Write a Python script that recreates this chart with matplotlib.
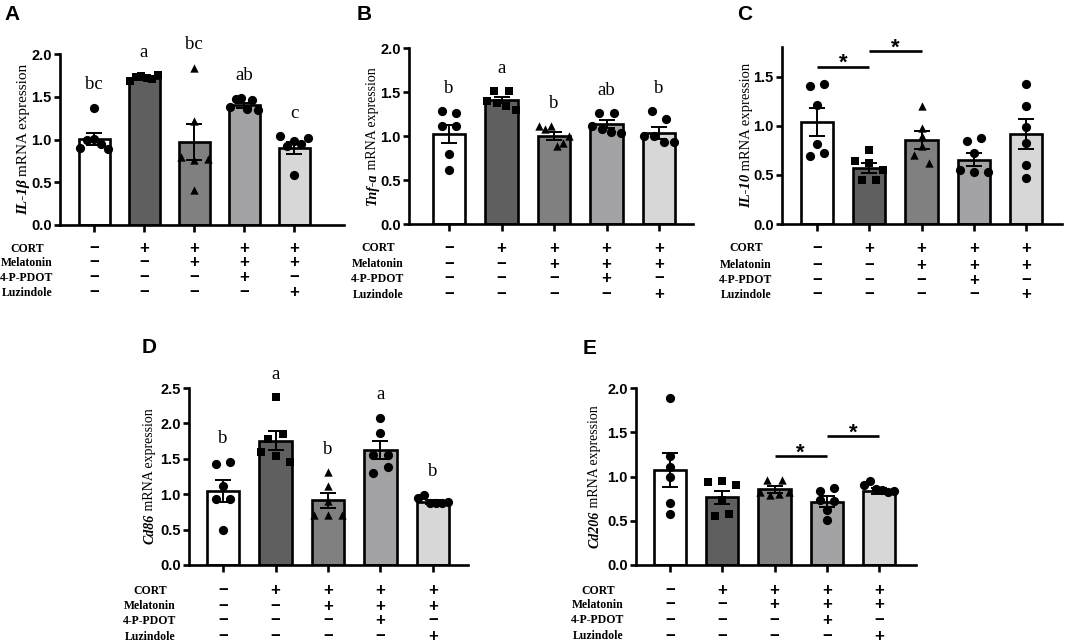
import numpy as np
import matplotlib
matplotlib.use('Agg')
import matplotlib.pyplot as plt
from matplotlib.transforms import blended_transform_factory, IdentityTransform
from matplotlib.ticker import MultipleLocator, FormatStrFormatter

plt.rcParams['font.family'] = ['Liberation Sans', 'DejaVu Sans']

W, H = 1065, 643
fig = plt.figure(figsize=(W / 100, H / 100), dpi=100)

# ---------------- data ----------------
row_names = ['CORT', 'Melatonin', '4-P-PDOT', 'Luzindole']
treatments = [['-', '+', '+', '+', '+'],
              ['-', '-', '+', '+', '+'],
              ['-', '-', '-', '+', '-'],
              ['-', '-', '-', '-', '+']]
bar_colors = ['#ffffff', '#5f5f5f', '#808080', '#a3a3a5', '#d7d7d7']
group_markers = ['o', 's', '^', 'o', 'o']

# A: IL-1beta
a_gene = 'IL-1β'
a_means = [1.01, 1.72, 0.97, 1.40, 0.90]
a_sem = [0.07, 0.02, 0.21, 0.03, 0.07]
a_points = [[0.90, 0.99, 1.37, 1.01, 0.95, 0.89],
            [1.68, 1.73, 1.74, 1.72, 1.71, 1.75],
            [0.80, 1.84, 1.22, 0.76, 0.41, 0.77],
            [1.38, 1.47, 1.48, 1.36, 1.46, 1.35],
            [1.04, 0.92, 0.98, 0.95, 0.58, 1.02]]
a_letters = ['bc', 'a', 'bc', 'ab', 'c']

# B: Tnf-a
b_gene = 'Tnf-a'
b_means = [1.02, 1.41, 1.00, 1.14, 1.035]
b_sem = [0.105, 0.03, 0.04, 0.045, 0.065]
b_points = [[1.28, 1.26, 1.11, 1.11, 0.80, 0.61],
            [1.51, 1.51, 1.40, 1.38, 1.34, 1.29],
            [1.11, 1.08, 1.11, 0.89, 0.92, 1.00],
            [1.26, 1.26, 1.11, 1.08, 1.04, 1.03],
            [1.28, 1.19, 1.00, 1.00, 0.93, 0.93]]
b_letters = ['b', 'a', 'b', 'ab', 'b']

# C: IL-10
c_gene = 'IL-10'
c_means = [1.04, 0.57, 0.855, 0.655, 0.915]
c_sem = [0.14, 0.05, 0.09, 0.065, 0.15]
c_points = [[1.40, 1.42, 1.21, 0.81, 0.69, 0.72],
            [0.75, 0.64, 0.62, 0.55, 0.45, 0.45],
            [1.20, 0.98, 0.89, 0.79, 0.70, 0.62],
            [0.84, 0.87, 0.72, 0.55, 0.53, 0.53],
            [1.42, 1.20, 0.99, 0.82, 0.60, 0.47]]
c_sig = [(0, 1, 1.60), (1, 2, 1.755)]

# D: Cd86
d_gene = 'Cd86'
d_means = [1.05, 1.755, 0.915, 1.625, 0.895]
d_sem = [0.155, 0.135, 0.105, 0.13, 0.03]
d_points = [[1.42, 1.46, 1.12, 0.93, 0.93, 0.49],
            [2.37, 1.78, 1.85, 1.60, 1.54, 1.45],
            [1.31, 1.12, 0.90, 0.70, 0.70, 0.70],
            [2.08, 1.86, 1.56, 1.56, 1.30, 1.38],
            [0.95, 0.99, 0.88, 0.88, 0.87, 0.89]]
d_letters = ['b', 'a', 'b', 'a', 'b']

# E: Cd206
e_gene = 'Cd206'
e_means = [1.07, 0.765, 0.855, 0.715, 0.835]
e_sem = [0.19, 0.075, 0.04, 0.06, 0.03]
e_points = [[1.89, 1.23, 1.11, 1.00, 0.70, 0.58],
            [0.94, 0.95, 0.90, 0.73, 0.55, 0.58],
            [0.96, 0.96, 0.83, 0.79, 0.80, 0.82],
            [0.84, 0.87, 0.74, 0.62, 0.51, 0.72],
            [0.90, 0.95, 0.86, 0.85, 0.82, 0.84]]
e_sig = [(2, 3, 1.226), (3, 4, 1.46)]

# ---------------- helpers ----------------
SERIF = 'Liberation Serif'
SANS = 'Liberation Sans'


def swarm(vals, ydiam, step_max=0.27, span=0.56):
    vals = np.asarray(vals, dtype=float)
    order = np.argsort(vals, kind='stable')
    offs = np.zeros(len(vals))
    clusters, cur = [], [order[0]]
    for idx in order[1:]:
        if vals[idx] - vals[cur[-1]] < ydiam:
            cur.append(idx)
        else:
            clusters.append(cur)
            cur = [idx]
    clusters.append(cur)
    for cl in clusters:
        n = len(cl)
        if n == 1:
            continue
        step = min(step_max, span / (n - 1))
        for k, idx in enumerate(sorted(cl)):
            offs[idx] = (k - (n - 1) / 2) * step
    return offs


def panel(c0, c4, left, right, y0, ytop, ymax, means, sem, points,
          letters=None, sig=None):
    s = (c4 - c0) / 4
    ax = fig.add_axes([left / W, 1 - y0 / H, (right - left) / W, (y0 - ytop) / H])
    ax.set_xlim((left - c0) / s, 4 + (right - c4) / s)
    ax.set_ylim(0, ymax)
    x = np.arange(5)
    ax.bar(x, means, width=0.62, color=bar_colors, edgecolor='black',
           linewidth=1.9, zorder=2)
    px_per_unit = (y0 - ytop) / ymax
    ydiam = 8.5 / px_per_unit
    for i in range(5):
        offs = swarm(points[i], ydiam)
        ax.scatter(x[i] + offs, points[i], marker=group_markers[i],
                   s=44 if group_markers[i] == 'o' else 36,
                   color='black', zorder=3, linewidths=0)
    ax.errorbar(x, means, yerr=sem, fmt='none', ecolor='black',
                elinewidth=1.4, capsize=5.5, capthick=1.4, zorder=4)
    if letters:
        for i in range(5):
            top = max(max(points[i]), means[i] + sem[i])
            ax.annotate(letters[i], (x[i], top), xytext=(0, 23),
                        textcoords='offset pixels', ha='center', va='center',
                        fontfamily=SERIF, fontsize=13.5)
    if sig:
        for i, j, h in sig:
            ax.plot([x[i], x[j]], [h, h], color='black', lw=1.9,
                    clip_on=False, solid_capstyle='butt')
            ax.annotate('*', ((x[i] + x[j]) / 2, h), xytext=(0, 3),
                        textcoords='offset pixels', ha='center', va='center',
                        fontfamily=SANS, fontweight='bold', fontsize=16,
                        annotation_clip=False)
    for sp in ['top', 'right']:
        ax.spines[sp].set_visible(False)
    for sp in ['left', 'bottom']:
        ax.spines[sp].set_linewidth(1.9)
    ax.set_xticks(x)
    ax.tick_params(axis='x', length=5, width=1.9, labelbottom=False)
    ax.yaxis.set_major_locator(MultipleLocator(0.5))
    ax.yaxis.set_major_formatter(FormatStrFormatter('%.1f'))
    ax.tick_params(axis='y', length=4.5, width=1.9, labelsize=10.5, pad=1.5)
    for lb in ax.get_yticklabels():
        lb.set_fontweight('bold')
    return ax


def table(ax, label_x, rows_y):
    tr = blended_transform_factory(ax.transData, fig.transFigure)
    for r, name in enumerate(row_names):
        yf = 1 - rows_y[r] / H
        fig.text(label_x / W, yf, name, ha='center', va='center',
                 fontfamily=SERIF, fontweight='bold', fontsize=8.5)
        for i, sgn in enumerate(treatments[r]):
            fig.text(i, yf, '+' if sgn == '+' else '\u2212', transform=tr,
                     ha='center', va='center', fontfamily=SANS,
                     fontweight='bold', fontsize=12)


ylabels = []


def ylabel(ax, gene, xc_px, size=10):
    ylabels.append((ax, gene, xc_px, size))


# ---------------- panels ----------------
axA = panel(94, 294, 60, 344, 225, 54, 2.0, a_means, a_sem, a_points, letters=a_letters)
axB = panel(449, 659, 409, 693, 224, 48, 2.0, b_means, b_sem, b_points, letters=b_letters)
axC = panel(817, 1026, 782, 1062, 224, 47, 1.8, c_means, c_sem, c_points, sig=c_sig)
axD = panel(223, 433, 189, 468, 565, 388, 2.5, d_means, d_sem, d_points, letters=d_letters)
axE = panel(670, 879, 636, 916, 565, 388, 2.0, e_means, e_sem, e_points, sig=e_sig)

table(axA, 27, [249, 263, 278, 293])
table(axB, 378, [248, 264, 279, 295])
table(axC, 746, [248, 265, 280, 295])
table(axD, 150, [591, 606, 621, 637])
table(axE, 598, [591, 605, 620, 636])

ylabel(axA, a_gene, 22, 11)
ylabel(axB, b_gene, 372, 10)
ylabel(axC, c_gene, 745, 10.5)
ylabel(axD, d_gene, 149, 10)
ylabel(axE, e_gene, 594, 10)

for lab, (px, py) in zip('ABCDE', [(12, 14), (364, 14), (745, 14), (149, 347), (590, 348)]):
    fig.text(px / W, 1 - py / H, lab, ha='center', va='center',
             fontfamily=SANS, fontweight='bold', fontsize=15)

# y-labels: italic bold gene name + regular text, baseline-aligned
renderer = fig.canvas.get_renderer()
for ax, gene, xc, size in ylabels:
    bb = ax.get_position()
    yc = (bb.y0 + bb.y1) / 2 * H
    kw = dict(rotation=90, rotation_mode='anchor', ha='left', va='baseline',
              fontfamily=SERIF, fontsize=size, transform=IdentityTransform())
    t1 = fig.text(0, 0, gene, fontweight='bold', fontstyle='italic', **kw)
    t2 = fig.text(0, 0, ' mRNA expression', **kw)
    L1 = t1.get_window_extent(renderer).height
    L2 = t2.get_window_extent(renderer).height
    ystart = yc - (L1 + L2) / 2
    xb = xc + 0.32 * size * 100 / 72
    t1.set_position((xb, ystart))
    t2.set_position((xb, ystart + L1))

fig.savefig('out.png', dpi=100)
